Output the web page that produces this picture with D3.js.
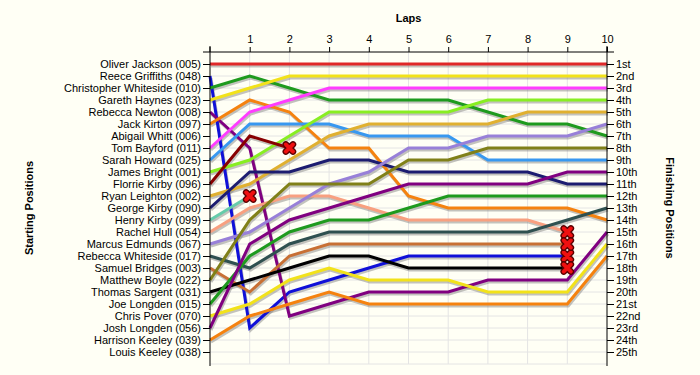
<!DOCTYPE html>
<html>
<head>
<meta charset="utf-8">
<script src="https://cdn.jsdelivr.net/npm/d3@7"></script>
<style>
  html, body { margin: 0; padding: 0; background: #fffff5; }
  svg { display: block; }
  text { font-family: "Liberation Sans", Arial, sans-serif; }
</style>
</head>
<body>
<div id="chart"></div>
<script>
// ---------- data ----------
const laps = [0, 1, 2, 3, 4, 5, 6, 7, 8, 9, 10];
const drivers = [
  "Oliver Jackson (005)", "Reece Griffiths (048)", "Christopher Whiteside (010)",
  "Gareth Haynes (023)", "Rebecca Newton (008)", "Jack Kirton (097)",
  "Abigail Whitt (006)", "Tom Bayford (011)", "Sarah Howard (025)",
  "James Bright (001)", "Florrie Kirby (096)", "Ryan Leighton (002)",
  "George Kirby (090)", "Henry Kirby (099)", "Rachel Hull (054)",
  "Marcus Edmunds (067)", "Rebecca Whiteside (017)", "Samuel Bridges (003)",
  "Matthew Boyle (022)", "Thomas Sargent (031)", "Joe Longden (015)",
  "Chris Pover (070)", "Josh Longden (056)", "Harrison Keeley (039)",
  "Louis Keeley (038)"
];
const colors = [
  "#e02828", "#1010d8", "#1e9a1e", "#f2e21a", "#800080", "#f5820f",
  "#999999", "#ff3cff", "#3898f0", "#88ee22", "#880000", "#e0b030",
  "#1c1c70", "#66ccaa", "#f8a080", "#9880d8", "#2f5050", "#c87034",
  "#808018", "#000000", "#1e9a1e", "#f2e21a", "#800080", "#f5820f",
  "#999999"
];
// position at each lap (array index = lap); shorter arrays = retired
const positions = [
  [1, 1, 1, 1, 1, 1, 1, 1, 1, 1, 1],
  [2, 23, 20, 19, 18, 17, 17, 17, 17, 17],
  [3, 2, 3, 4, 4, 4, 4, 5, 6, 6, 7],
  [4, 3, 2, 2, 2, 2, 2, 2, 2, 2, 2],
  [5, 8, 22, 21, 20, 20, 20, 19, 19, 19, 15],
  [6, 4, 5, 8, 8, 12, 13, 13, 13, 13, 14],
  [],
  [8, 5, 4, 3, 3, 3, 3, 3, 3, 3, 3],
  [9, 6, 6, 6, 7, 7, 7, 9, 9, 9, 9],
  [10, 9, 7, 5, 5, 5, 5, 4, 4, 4, 4],
  [11, 7, 8],
  [12, 11, 9, 7, 6, 6, 6, 6, 5, 5, 5],
  [13, 10, 10, 9, 9, 10, 10, 10, 10, 11, 11],
  [14, 12],
  [15, 13, 12, 12, 13, 14, 14, 14, 14, 15],
  [16, 15, 13, 11, 10, 8, 8, 7, 7, 7, 6],
  [17, 18, 16, 15, 15, 15, 15, 15, 15, 14, 13],
  [18, 20, 17, 16, 16, 16, 16, 16, 16, 16],
  [19, 14, 11, 11, 11, 9, 9, 8, 8, 8, 8],
  [20, 19, 18, 17, 17, 18, 18, 18, 18, 18],
  [21, 17, 15, 14, 14, 13, 12, 12, 12, 12, 12],
  [22, 21, 19, 18, 19, 19, 19, 20, 20, 20, 16],
  [23, 16, 14, 13, 12, 11, 11, 11, 11, 10, 10],
  [24, 22, 21, 20, 21, 21, 21, 21, 21, 21, 17],
  []
];
const finishLabels = ["1st","2nd","3rd","4th","5th","6th","7th","8th","9th","10th",
  "11th","12th","13th","14th","15th","16th","17th","18th","19th","20th",
  "21st","22nd","23rd","24th","25th"];
const totalLaps = 10;

// ---------- layout ----------
const W = 700, H = 375;
const svg = d3.select("#chart").append("svg").attr("width", W).attr("height", H);
svg.append("rect").attr("width", W).attr("height", H).attr("fill", "#fffff5");

const x = d3.scaleLinear().domain([0, totalLaps]).range([210, 607]);
const y = d3.scaleLinear().domain([0, drivers.length + 1]).range([52, 364]);
const posTicks = d3.range(1, drivers.length + 1);

// grid
const grid = svg.append("g");
grid.selectAll("line.v").data(laps.slice(1, -1)).enter().append("line")
  .attr("x1", d => x(d)).attr("x2", d => x(d))
  .attr("y1", y(0)).attr("y2", y(drivers.length + 1))
  .attr("stroke", "#e4e4e4").attr("stroke-width", 1);
grid.selectAll("line.h").data(posTicks.concat([drivers.length + 1])).enter().append("line")
  .attr("x1", x(0)).attr("x2", x(totalLaps))
  .attr("y1", d => y(d)).attr("y2", d => y(d))
  .attr("stroke", "#e4e4e4").attr("stroke-width", 1);

// lines
const line = d3.line().x((d, i) => x(i)).y(d => y(d));
const series = drivers.map((n, i) => ({ name: n, color: colors[i], pos: positions[i] }))
  .filter(s => s.pos.length > 1);

const shadows = svg.append("g").attr("transform", "translate(1,2)");
shadows.selectAll("path").data(series).enter().append("path")
  .attr("d", s => line(s.pos))
  .attr("fill", "none").attr("stroke", "#7a7a7a").attr("stroke-opacity", 0.45)
  .attr("stroke-width", 3).attr("stroke-linejoin", "miter");

svg.append("g").selectAll("path").data(series).enter().append("path")
  .attr("d", s => line(s.pos))
  .attr("fill", "none").attr("stroke", s => s.color)
  .attr("stroke-width", 3).attr("stroke-linejoin", "miter");

// retirement crosses
const retired = series.filter(s => s.pos.length - 1 < totalLaps);
const cross = svg.append("g");
retired.forEach(s => {
  const lap = s.pos.length - 1;
  const cx = x(lap), cy = y(s.pos[lap]);
  const g = cross.append("g").attr("transform", `translate(${cx},${cy})`);
  const p = "M-3.6,-3.6L3.6,3.6M3.6,-3.6L-3.6,3.6";
  g.append("path").attr("d", p).attr("stroke", "#5a0000").attr("stroke-width", 6.5).attr("stroke-linecap", "round");
  g.append("path").attr("d", p).attr("stroke", "#f01010").attr("stroke-width", 3.8).attr("stroke-linecap", "round");
});

// axes
const fs = 11;
const topAxis = d3.axisTop(x).tickValues(laps.slice(1)).tickSize(5).tickSizeOuter(0).tickFormat(d3.format("d"));
const gTop = svg.append("g").attr("transform", `translate(0,${y(0)})`).call(topAxis);
gTop.select(".domain").attr("d", `M${x(0) - 7},0H${x(totalLaps) + 7}`).attr("stroke", "#000");
gTop.selectAll("text").attr("font-size", fs).attr("fill", "#000").attr("dy", "-0.1em");
svg.append("line").attr("x1", x(0)).attr("x2", x(0)).attr("y1", y(0) - 5).attr("y2", y(0)).attr("stroke", "#000");
svg.append("line").attr("x1", x(totalLaps)).attr("x2", x(totalLaps)).attr("y1", y(0) - 5).attr("y2", y(0)).attr("stroke", "#000");

const leftAxis = d3.axisLeft(y).tickValues(posTicks).tickSize(7).tickSizeOuter(0)
  .tickFormat(d => drivers[d - 1]);
const gLeft = svg.append("g").attr("transform", `translate(${x(0)},0)`).call(leftAxis);
gLeft.select(".domain").attr("d", `M0,${y(0) - 6}V${y(drivers.length + 1) + 2}`).attr("stroke", "#000");
gLeft.selectAll("text").attr("font-size", fs).attr("fill", "#000").attr("x", -9);

const rightAxis = d3.axisRight(y).tickValues(posTicks).tickSize(7).tickSizeOuter(0)
  .tickFormat(d => finishLabels[d - 1]);
const gRight = svg.append("g").attr("transform", `translate(${x(totalLaps)},0)`).call(rightAxis);
gRight.select(".domain").attr("d", `M0,${y(0) - 6}V${y(drivers.length + 1) + 2}`).attr("stroke", "#000");
gRight.selectAll("text").attr("font-size", fs).attr("fill", "#000").attr("x", 9);

// titles
svg.append("text").attr("x", (x(0) + x(totalLaps)) / 2).attr("y", 22)
  .attr("text-anchor", "middle").attr("font-size", fs).attr("font-weight", "bold").text("Laps");
svg.append("text").attr("transform", `translate(33,${(y(0) + y(drivers.length + 1)) / 2}) rotate(-90)`)
  .attr("text-anchor", "middle").attr("font-size", fs).attr("font-weight", "bold").text("Starting Positions");
svg.append("text").attr("transform", `translate(666,${(y(0) + y(drivers.length + 1)) / 2}) rotate(90)`)
  .attr("text-anchor", "middle").attr("font-size", fs).attr("font-weight", "bold").text("Finishing Positions");
</script>
</body>
</html>
